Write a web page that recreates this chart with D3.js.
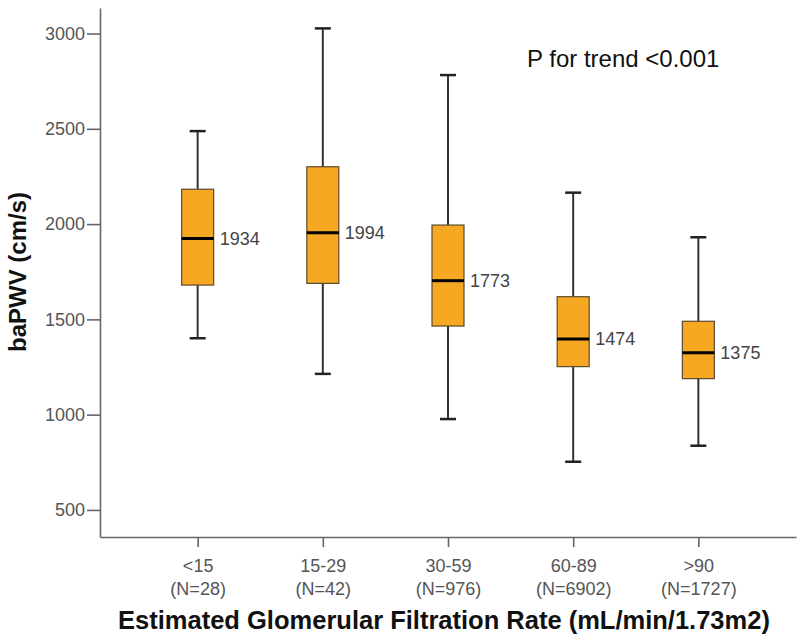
<!DOCTYPE html>
<html>
<head>
<meta charset="utf-8">
<script src="https://cdn.jsdelivr.net/npm/d3@7"></script>
<style>
  html, body { margin: 0; padding: 0; background: #fff; }
  svg { display: block; font-family: "Liberation Sans", Arial, sans-serif; }
</style>
</head>
<body>
<svg id="chart" width="800" height="644"></svg>
<script>
// ---- data ----
const categories = ["<15", "15-29", "30-59", "60-89", ">90"];
const nLabels = ["(N=28)", "(N=42)", "(N=976)", "(N=6902)", "(N=1727)"];
const whiskerLow = [1401, 1214, 977, 753, 837];
const q1 = [1680, 1689, 1465, 1252, 1189];
const median = [1925, 1955, 1703, 1397, 1325];
const q3 = [2183, 2301, 1995, 1619, 1490];
const whiskerHigh = [2488, 3027, 2782, 2165, 1931];
const valueLabels = ["1934", "1994", "1773", "1474", "1375"];
const yTicks = [500, 1000, 1500, 2000, 2500, 3000];
const yDomain = [358, 3134];
const annotation = "P for trend <0.001";
const xTitle = "Estimated Glomerular Filtration Rate (mL/min/1.73m2)";
const yTitle = "baPWV (cm/s)";

const rows = categories.map((c, i) => ({
  cat: c, n: nLabels[i], lo: whiskerLow[i], q1: q1[i], med: median[i],
  q3: q3[i], hi: whiskerHigh[i], label: valueLabels[i]
}));

const svg = d3.select("#chart");
const mLeft = 100, mRight = 796, mTop = 8, mBottom = 537;

const x = d3.scalePoint().domain(categories).range([mLeft, mRight]).padding(0.78);
const y = d3.scaleLinear().domain(yDomain).range([mBottom, mTop]);

const boxW = 32, capW = 16;

// axes
const yAxis = d3.axisLeft(y).tickValues(yTicks).tickFormat(d3.format("d"))
  .tickSize(13).tickPadding(2).tickSizeOuter(0);
const gy = svg.append("g").attr("transform", `translate(${mLeft},0)`).call(yAxis);
gy.select(".domain").attr("stroke", "#666").attr("stroke-width", 1.6);
gy.selectAll(".tick line").attr("stroke", "#666").attr("stroke-width", 1.6);
gy.selectAll(".tick text").attr("fill", "#555").attr("font-size", 18)
  .attr("font-family", "'Liberation Sans', Arial, sans-serif");

const xAxis = d3.axisBottom(x).tickSize(10).tickSizeOuter(0).tickFormat(() => "");
const gx = svg.append("g").attr("transform", `translate(0,${mBottom})`).call(xAxis);
gx.select(".domain").attr("stroke", "#666").attr("stroke-width", 1.6);
gx.selectAll(".tick line").attr("stroke", "#666").attr("stroke-width", 1.6);
gx.selectAll(".tick").each(function (d, i) {
  const t = d3.select(this).append("text")
    .attr("fill", "#555").attr("font-size", 18).attr("text-anchor", "middle")
    .attr("font-family", "'Liberation Sans', Arial, sans-serif");
  t.append("tspan").attr("x", 0).attr("y", 35).text(d);
  t.append("tspan").attr("x", 0).attr("y", 58).text(nLabels[i]);
});

// boxes
const g = svg.append("g");
const b = g.selectAll("g.box").data(rows).join("g").attr("class", "box");

b.append("line")
  .attr("x1", d => x(d.cat)).attr("x2", d => x(d.cat))
  .attr("y1", d => y(d.hi)).attr("y2", d => y(d.lo))
  .attr("stroke", "#333").attr("stroke-width", 2);
b.append("line")
  .attr("x1", d => x(d.cat) - capW / 2).attr("x2", d => x(d.cat) + capW / 2)
  .attr("y1", d => y(d.hi)).attr("y2", d => y(d.hi))
  .attr("stroke", "#222").attr("stroke-width", 2.5);
b.append("line")
  .attr("x1", d => x(d.cat) - capW / 2).attr("x2", d => x(d.cat) + capW / 2)
  .attr("y1", d => y(d.lo)).attr("y2", d => y(d.lo))
  .attr("stroke", "#222").attr("stroke-width", 2.5);
b.append("rect")
  .attr("x", d => x(d.cat) - boxW / 2).attr("width", boxW)
  .attr("y", d => y(d.q3)).attr("height", d => y(d.q1) - y(d.q3))
  .attr("fill", "#F7A823").attr("stroke", "#5a4a30").attr("stroke-width", 1.2);
b.append("line")
  .attr("x1", d => x(d.cat) - boxW / 2).attr("x2", d => x(d.cat) + boxW / 2)
  .attr("y1", d => y(d.med)).attr("y2", d => y(d.med))
  .attr("stroke", "#000").attr("stroke-width", 3);
b.append("text")
  .attr("x", d => x(d.cat) + boxW / 2 + 6)
  .attr("y", d => y(d.med)).attr("dy", "0.36em")
  .attr("fill", "#444").attr("font-size", 18)
  .text(d => d.label);

// titles
svg.append("text")
  .attr("x", 444).attr("y", 629)
  .attr("text-anchor", "middle").attr("font-weight", "bold").attr("font-size", 25.5)
  .attr("fill", "#111").text(xTitle);

svg.append("text")
  .attr("transform", `translate(26,272) rotate(-90)`)
  .attr("text-anchor", "middle").attr("font-weight", "bold").attr("font-size", 24)
  .attr("fill", "#111").text(yTitle);

svg.append("text")
  .attr("x", 527).attr("y", 67)
  .attr("font-size", 24).attr("fill", "#111")
  .text(annotation);
</script>
</body>
</html>
